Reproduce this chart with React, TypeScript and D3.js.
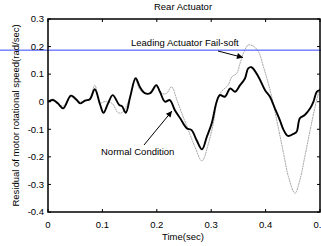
import React from 'react';
import * as d3 from 'd3';

// time (sec) and residual (rad/sec)
const blackT = [0, 0.009, 0.018, 0.028, 0.042, 0.053, 0.059, 0.068, 0.077, 0.086, 0.096, 0.102, 0.11, 0.119, 0.131, 0.136, 0.143, 0.151, 0.161, 0.169, 0.178, 0.188, 0.199, 0.206, 0.215, 0.224, 0.233, 0.243, 0.255, 0.264, 0.273, 0.283, 0.292, 0.301, 0.31, 0.316, 0.325, 0.335, 0.344, 0.353, 0.362, 0.368, 0.374, 0.387, 0.399, 0.408, 0.417, 0.426, 0.433, 0.441, 0.451, 0.457, 0.463, 0.472, 0.482, 0.488, 0.494, 0.5];
const blackV = [0, 0.006, -0.006, -0.024, 0.022, 0.006, -0.006, 0.004, 0.009, 0.045, -0.012, -0.04, -0.008, 0.024, -0.012, -0.016, -0.04, 0.017, 0.085, 0.053, 0.031, 0.031, 0.06, 0.035, 0, 0.006, -0.03, -0.06, -0.096, -0.103, -0.139, -0.173, -0.127, -0.078, 0, 0.024, 0.018, 0.048, 0.036, 0.06, 0.084, 0.121, 0.125, 0.09, 0.042, 0.018, -0.024, -0.066, -0.102, -0.124, -0.117, -0.109, -0.06, -0.048, -0.024, 0, 0.036, 0.042];

const grayT = [0, 0.009, 0.018, 0.028, 0.042, 0.053, 0.059, 0.068, 0.077, 0.086, 0.096, 0.103, 0.108, 0.118, 0.129, 0.136, 0.142, 0.151, 0.161, 0.169, 0.178, 0.188, 0.2, 0.209, 0.218, 0.227, 0.237, 0.246, 0.258, 0.27, 0.283, 0.295, 0.304, 0.313, 0.322, 0.331, 0.338, 0.347, 0.353, 0.359, 0.365, 0.368, 0.377, 0.387, 0.396, 0.405, 0.414, 0.423, 0.433, 0.442, 0.454, 0.463, 0.472, 0.482, 0.491, 0.497, 0.5];
const grayV = [0, 0.01, -0.008, -0.015, 0.017, 0.002, -0.001, 0.002, 0.01, 0.06, -0.005, 0, 0, -0.006, -0.04, -0.04, -0.024, 0.017, 0.078, 0.043, 0.03, 0.03, 0.054, 0.03, 0.03, 0.054, 0.006, -0.042, -0.103, -0.163, -0.215, -0.151, -0.078, 0.018, 0.043, 0.06, 0.09, 0.103, 0.139, 0.175, 0.199, 0.206, 0.202, 0.181, 0.127, 0.066, -0.006, -0.091, -0.187, -0.272, -0.332, -0.284, -0.2, -0.102, -0.018, 0.03, 0.05];

const threshold = 0.187;
const xTicks = [0, 0.1, 0.2, 0.3, 0.4, 0.5];
const yTicks = [-0.4, -0.3, -0.2, -0.1, 0, 0.1, 0.2, 0.3];

const W = 321, H = 246;
const m = { left: 48, right: 320, top: 19, bottom: 212 };
const font = 'Liberation Sans, Arial, sans-serif';

export default function App() {
  const x = d3.scaleLinear().domain([0, 0.5]).range([m.left, m.right]);
  const y = d3.scaleLinear().domain([-0.4, 0.3]).range([m.bottom, m.top]);
  const line = d3.line<[number, number]>()
    .x(d => x(d[0]))
    .y(d => y(d[1]))
    .curve(d3.curveCatmullRom.alpha(0.5));
  const black = line(blackT.map((t, i) => [t, blackV[i]]) as [number, number][]);
  const gray = line(grayT.map((t, i) => [t, grayV[i]]) as [number, number][]);
  const fmt = (v: number) => (Math.abs(v) < 1e-9 ? '0' : String(+v.toFixed(1)));

  return (
    <svg width={W} height={H} style={{ position: 'absolute', left: 0, top: 0, background: '#fff' }}
      fontFamily={font} fontSize={9.5}>
      <defs>
        <marker id="ah" viewBox="0 0 10 10" refX="10" refY="5" markerWidth="8" markerHeight="6"
          markerUnits="userSpaceOnUse" orient="auto">
          <path d="M0,0 L10,5 L0,10 z" fill="#000" />
        </marker>
      </defs>
      <text x={183} y={10} textAnchor="middle">Rear Actuator</text>

      <path d={gray!} fill="none" stroke="#a8a8a8" strokeWidth={1} strokeDasharray="2,0.6" />
      <path d={black!} fill="none" stroke="#000" strokeWidth={1.9} strokeLinejoin="round" />

      <line x1={0} x2={W} y1={y(threshold)} y2={y(threshold)} stroke="#3344ff" strokeWidth={1} />

      <rect x={m.left} y={m.top} width={m.right - m.left} height={m.bottom - m.top}
        fill="none" stroke="#000" strokeWidth={1.5} />
      {xTicks.map(t => (
        <g key={'x' + t}>
          <line x1={x(t)} x2={x(t)} y1={m.bottom} y2={m.bottom - 3} stroke="#000" />
          <line x1={x(t)} x2={x(t)} y1={m.top} y2={m.top + 3} stroke="#000" />
          <text x={x(t)} y={228} textAnchor="middle">{fmt(t)}</text>
        </g>
      ))}
      {yTicks.map(t => (
        <g key={'y' + t}>
          <line x1={m.left} x2={m.left + 3} y1={y(t)} y2={y(t)} stroke="#000" />
          <line x1={m.right} x2={m.right - 3} y1={y(t)} y2={y(t)} stroke="#000" />
          <text x={44} y={y(t) + 3.3} textAnchor="end">{fmt(t)}</text>
        </g>
      ))}
      <text x={183} y={240} textAnchor="middle">Time(sec)</text>
      <text transform={`translate(19,${(m.top + m.bottom) / 2}) rotate(-90)`} textAnchor="middle">
        Residual of motor rotational speed(rad/sec)
      </text>

      <text x={131} y={45.5}>Leading Actuator Fail-soft</text>
      <line x1={218} y1={51} x2={243} y2={57.5} stroke="#000" strokeWidth={1} markerEnd="url(#ah)" />

      <text x={101} y={154.5}>Normal Condition</text>
      <line x1={144} y1={145} x2={172} y2={111} stroke="#000" strokeWidth={1} markerEnd="url(#ah)" />
    </svg>
  );
}
